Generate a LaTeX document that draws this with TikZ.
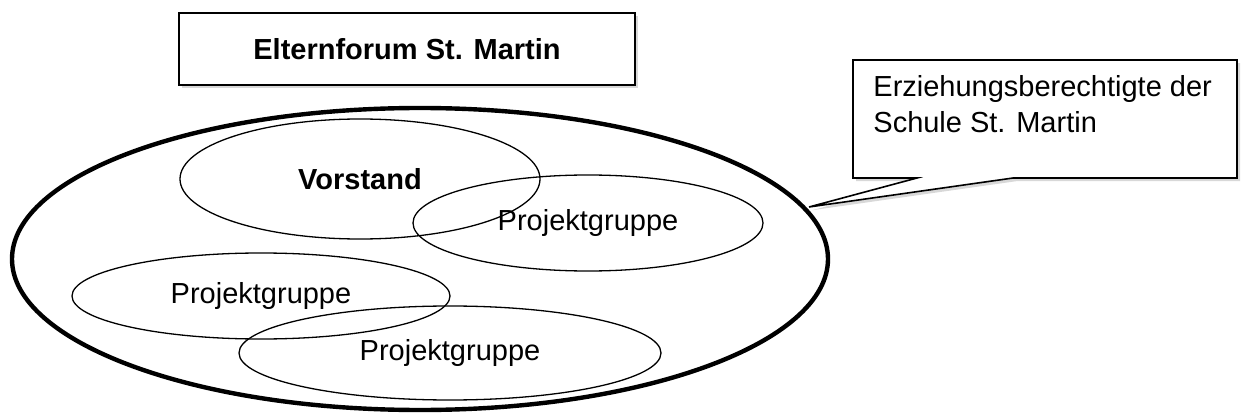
\documentclass[tikz,border=0pt]{standalone}
\usepackage{fontspec}
\setmainfont{Liberation Sans}
\usetikzlibrary{shapes.geometric,shadows}
\begin{document}
\begin{tikzpicture}[x=0.5pt,y=-0.5pt,
  txt/.style={font=\fontsize{14.5}{18}\selectfont, inner sep=0pt},
  grp/.style={draw, ellipse, line width=0.65pt, inner sep=0pt, font=\fontsize{14.5}{18}\selectfont},
  softshadow/.style={drop shadow={fill=black!70, opacity=0.22, shadow xshift=1.6pt, shadow yshift=-1.6pt}},
  boxline/.style={draw, line width=0.8pt, fill=white, softshadow}
]
\useasboundingbox (0,0) rectangle (1243,417);

% title box
\node[boxline, rectangle, minimum width=228pt, minimum height=36pt, inner sep=0pt,
      font=\fontsize{14.5}{18}\selectfont\bfseries] (title) at (407,49) {\raisebox{-1.5pt}{Elternforum St. Martin}};

% callout
\coordinate (c1) at (853,60);
\coordinate (c2) at (1237,60);
\coordinate (c3) at (1237,178);
\coordinate (c4) at (1013,178);
\coordinate (tip) at (809,207);
\coordinate (c5) at (917,178);
\coordinate (c6) at (853,178);
\path[boxline, line join=miter] (c1) -- (c2) -- (c3) -- (c4) -- (tip) -- (c5) -- (c6) -- cycle;
\node[txt, anchor=base west] (cl1) at (873,97) {Erziehungsberechtigte der};
\node[txt, anchor=base west] (cl2) at (873,133) {Schule St. Martin};

% big ellipse
\node[draw, ellipse, line width=2.2pt, minimum width=408pt, minimum height=151pt, inner sep=0pt] (all) at (420,259) {};

% groups
\node[grp, minimum width=180pt, minimum height=60pt, font=\fontsize{14.5}{18}\selectfont\bfseries] (vorstand) at (360,179) {Vorstand};
\node[grp, minimum width=175pt, minimum height=48pt] (pg1) at (588,223) {Projektgruppe};
\node[grp, minimum width=189pt, minimum height=43pt] (pg2) at (261,296) {Projektgruppe};
\node[grp, minimum width=211pt, minimum height=47pt] (pg3) at (450,353) {Projektgruppe};
\end{tikzpicture}
\end{document}
